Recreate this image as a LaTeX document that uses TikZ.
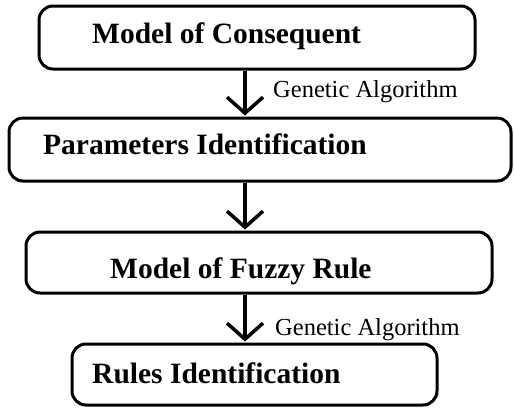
\documentclass[tikz,border=0pt]{standalone}
\usepackage{fontspec}
\setmainfont{Liberation Serif}
\usetikzlibrary{arrows.meta}

\begin{document}
\begin{tikzpicture}[x=1pt, y=-1pt,
    stage/.style={draw, line width=3pt, rounded corners=14pt, inner sep=0pt},
    title/.style={font=\fontsize{29.5}{32}\selectfont\bfseries, inner sep=0pt, anchor=base west},
    method/.style={font=\fontsize{24.5}{27}\selectfont, inner sep=0pt, anchor=base west},
    flow/.style={line width=3.5pt, -{Straight Barb[length=16pt, width=36pt, line width=3.5pt]}, shorten >=1pt}]
  \useasboundingbox (0,0) rectangle (514,407);

  % stage boxes
  \node[stage, minimum width=436pt, minimum height=63pt] (b1) at (257,37.5) {};
  \node[stage, minimum width=502pt, minimum height=63pt] (b2) at (260,149.5) {};
  \node[stage, minimum width=466pt, minimum height=61pt] (b3) at (259,262.5) {};
  \node[stage, minimum width=365pt, minimum height=61pt] (b4) at (254.5,374.5) {};

  % stage titles
  \node[title] (t1) at (92,43) {Model of Consequent};
  \node[title] (t2) at (43,154) {Parameters Identification};
  \node[title] (t3) at (110,278) {Model of Fuzzy Rule};
  \node[title] (t4) at (92,383) {Rules Identification};

  % vertical axis of the flow arrows
  \coordinate (axis) at (245,0);

  \draw[flow] (b1.south -| axis) -- (b2.north -| axis);
  \draw[flow] (b2.south -| axis) -- (b3.north -| axis);
  \draw[flow] (b3.south -| axis) -- (b4.north -| axis);

  % arrow labels
  \node[method] (g1) at (273,97) {Genetic Algorithm};
  \node[method] (g2) at (275,335) {Genetic Algorithm};
\end{tikzpicture}
\end{document}
